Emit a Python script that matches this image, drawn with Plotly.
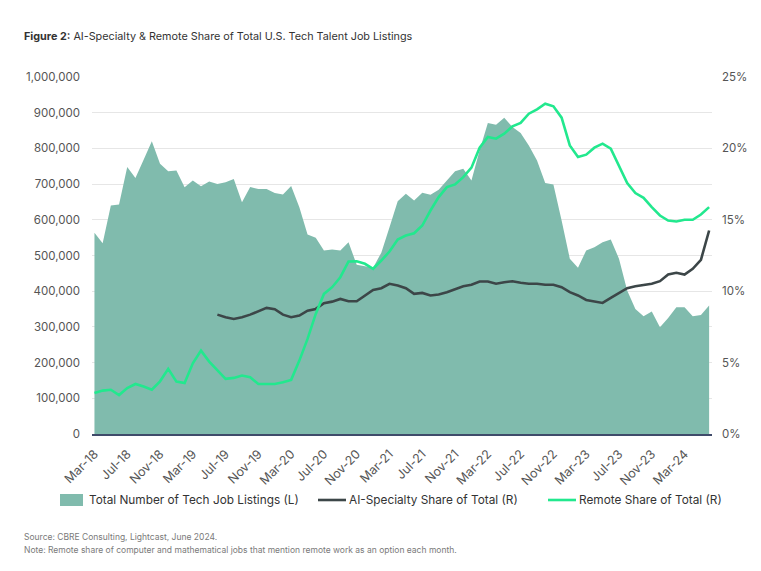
import plotly.graph_objects as go

months = ["Jan", "Feb", "Mar", "Apr", "May", "Jun", "Jul", "Aug", "Sep", "Oct", "Nov", "Dec"]
dates = []
y, m = 2018, 2
for _ in range(76):
    dates.append(f"{months[m]}-{str(y)[2:]}")
    m += 1
    if m == 12:
        m = 0
        y += 1

listings = [564000, 534000, 640000, 643000, 748000, 717000, 768000, 820000, 757000, 736000,
            738000, 691000, 710000, 694000, 707000, 700000, 705000, 714000, 649000, 692000,
            686000, 686000, 675000, 671000, 695000, 635000, 559000, 550000, 514000, 517000,
            514000, 537000, 474000, 470000, 466000, 508000, 579000, 652000, 673000, 654000,
            676000, 670000, 684000, 710000, 736000, 743000, 710000, 795000, 871000, 866000,
            886000, 860000, 843000, 808000, 766000, 703000, 699000, 598000, 491000, 466000,
            514000, 523000, 537000, 545000, 491000, 402000, 350000, 330000, 343000, 299000,
            325000, 355000, 355000, 330000, 333000, 360000]

ai_share = [None] * 15 + [8.36, 8.18, 8.06, 8.18, 8.36, 8.57, 8.83, 8.74, 8.36, 8.18,
            8.29, 8.64, 8.76, 9.16, 9.27, 9.46, 9.30, 9.30, 9.70, 10.09,
            10.21, 10.52, 10.40, 10.21, 9.81, 9.88, 9.70, 9.77, 9.93, 10.16,
            10.35, 10.45, 10.68, 10.68, 10.52, 10.63, 10.70, 10.59, 10.52, 10.52,
            10.45, 10.45, 10.28, 9.93, 9.70, 9.39, 9.27, 9.18, 9.53, 9.88,
            10.21, 10.35, 10.45, 10.52, 10.70, 11.17, 11.29, 11.17, 11.57, 12.20,
            14.25]

remote_share = [2.87, 3.04, 3.10, 2.73, 3.22, 3.50, 3.32, 3.10, 3.69, 4.56,
                3.67, 3.57, 4.95, 5.84, 5.07, 4.49, 3.86, 3.93, 4.09, 3.97,
                3.50, 3.50, 3.50, 3.62, 3.79, 5.14, 6.66, 8.41, 9.81, 10.28,
                10.98, 12.08, 12.10, 11.92, 11.57, 12.15, 12.78, 13.62, 13.90, 14.06,
                14.60, 15.65, 16.59, 17.29, 17.48, 17.99, 18.65, 20.05, 20.80, 20.68,
                21.03, 21.54, 21.78, 22.43, 22.74, 23.13, 22.95, 22.15, 20.21, 19.39,
                19.56, 20.05, 20.33, 19.98, 18.74, 17.57, 16.87, 16.54, 15.89, 15.30,
                14.95, 14.88, 15.00, 15.00, 15.37, 15.89]

tick_idx = list(range(0, 76, 4))
tick_labels = [dates[i] for i in tick_idx]

AREA = "#80bbad"
DARK = "#3c4648"
GREEN = "#22e88e"
FONT = "Inter"

x = list(range(len(dates)))

fig = go.Figure()
fig.add_trace(go.Scatter(x=x, y=listings, fill="tozeroy", mode="none", fillcolor=AREA,
                         showlegend=False, hoverinfo="skip"))
fig.add_trace(go.Scatter(x=x, y=ai_share, yaxis="y2", mode="lines",
                         line=dict(color=DARK, width=2.6), showlegend=False))
fig.add_trace(go.Scatter(x=x, y=remote_share, yaxis="y2", mode="lines",
                         line=dict(color=GREEN, width=2.6), showlegend=False))

L, R, T, B = 92, 712, 77, 434
W, H = 761, 571


def px(xp):
    return (xp - L) / (R - L)


def py(yp):
    return (B - yp) / (B - T)


shapes = []
annotations = []

# Title
annotations.append(dict(x=px(22), y=py(37), xref="paper", yref="paper", xanchor="left", yanchor="middle",
                        showarrow=False,
                        text="<b>Figure 2:</b> AI-Specialty & Remote Share of Total U.S. Tech Talent Job Listings",
                        font=dict(family=FONT, size=10.8, color="#333333")))
# Footnotes
annotations.append(dict(x=px(22), y=py(537), xref="paper", yref="paper", xanchor="left", yanchor="middle",
                        showarrow=False, text="Source: CBRE Consulting, Lightcast, June 2024.",
                        font=dict(family=FONT, size=8.5, color="#7a7a7a")))
annotations.append(dict(x=px(22), y=py(550), xref="paper", yref="paper", xanchor="left", yanchor="middle",
                        showarrow=False,
                        text="Note: Remote share of computer and mathematical jobs that mention remote work as an option each month.",
                        font=dict(family=FONT, size=8.5, color="#7a7a7a")))

# Legend
ly = 500
shapes.append(dict(type="rect", xref="paper", yref="paper", x0=px(60), x1=px(83), y0=py(ly + 6), y1=py(ly - 6),
                   fillcolor=AREA, line=dict(width=0)))
annotations.append(dict(x=px(87), y=py(ly), xref="paper", yref="paper", xanchor="left", yanchor="middle",
                        showarrow=False, text="Total Number of Tech Job Listings (L)",
                        font=dict(family=FONT, size=11.8, color="#333333")))
shapes.append(dict(type="line", xref="paper", yref="paper", x0=px(318), x1=px(346), y0=py(ly), y1=py(ly),
                   line=dict(color=DARK, width=2.6)))
annotations.append(dict(x=px(347), y=py(ly), xref="paper", yref="paper", xanchor="left", yanchor="middle",
                        showarrow=False, text="AI-Specialty Share of Total (R)",
                        font=dict(family=FONT, size=11.8, color="#333333")))
shapes.append(dict(type="line", xref="paper", yref="paper", x0=px(548), x1=px(576), y0=py(ly), y1=py(ly),
                   line=dict(color=GREEN, width=2.6)))
annotations.append(dict(x=px(577), y=py(ly), xref="paper", yref="paper", xanchor="left", yanchor="middle",
                        showarrow=False, text="Remote Share of Total (R)",
                        font=dict(family=FONT, size=11.8, color="#333333")))

fig.update_layout(
    width=W, height=H,
    margin=dict(l=L, r=W - R, t=T, b=H - B, autoexpand=False),
    paper_bgcolor="white", plot_bgcolor="white",
    font=dict(family=FONT, color="#555555"),
    xaxis=dict(range=[-0.3, 75.35], tickmode="array", tickvals=tick_idx, ticktext=tick_labels,
               tickangle=-45, tickfont=dict(size=12.5, color="#555555"), showgrid=False,
               showline=True, linecolor="#3f4b6a", linewidth=1.5, ticks="", zeroline=False,
               ticklabelstandoff=6, automargin=False),
    yaxis=dict(range=[0, 1000000], tickvals=list(range(0, 1000001, 100000)),
               ticktext=[f"{v:,}" for v in range(0, 1000001, 100000)],
               tickfont=dict(size=11.5, color="#555555"), showgrid=True, gridcolor="#e6e6e6",
               gridwidth=1, zeroline=False, showline=False, ticks="", ticklabelstandoff=11,
               automargin=False),
    yaxis2=dict(range=[0, 25], overlaying="y", side="right", tickvals=[0, 5, 10, 15, 20, 25],
                ticktext=["0%", "5%", "10%", "15%", "20%", "25%"],
                tickfont=dict(size=11.5, color="#555555"), showgrid=False, zeroline=False,
                showline=False, ticks="", ticklabelstandoff=9, automargin=False),
    shapes=shapes, annotations=annotations,
)

fig.write_html("out.html", config={"displayModeBar": False},
               post_script="document.body.style.margin='0';document.body.style.padding='0';")
